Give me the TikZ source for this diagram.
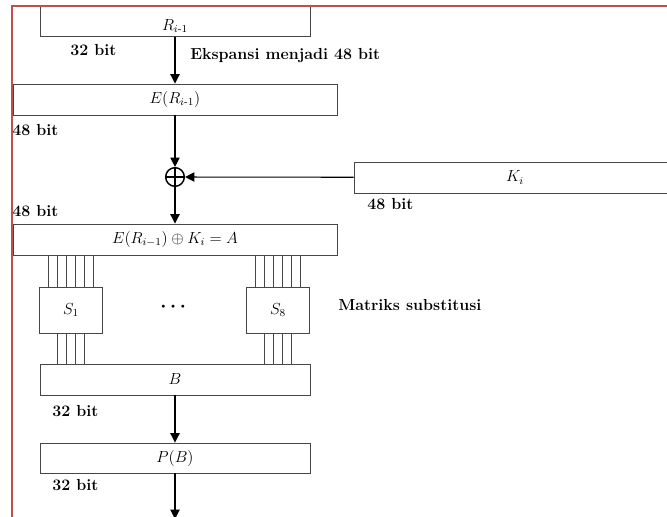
\documentclass[tikz,border=0pt]{standalone}
\usepackage{amsmath}
\usetikzlibrary{arrows.meta,positioning,calc}
\definecolor{framered}{RGB}{192,80,77}
\definecolor{boxgray}{RGB}{70,70,70}
\tikzset{
  blok/.style  ={rectangle, draw=boxgray, line width=0.7pt, inner sep=0pt, font=\large},
  wide/.style  ={blok, minimum width=243pt, minimum height=23.25pt},
  mid/.style   ={blok, minimum width=202.5pt, minimum height=23.25pt},
  sbox/.style  ={blok, minimum width=47.5pt, minimum height=34.5pt},
  xorknoop/.style={circle, draw, line width=1.1pt, minimum size=14pt, inner sep=0pt,
                 path picture={\draw[line width=1.1pt]
                   (path picture bounding box.north) -- (path picture bounding box.south)
                   (path picture bounding box.west) -- (path picture bounding box.east);}},
  flow/.style  ={-{Triangle[length=7pt,width=7pt]}, line width=0.8pt},
  wire/.style  ={draw=boxgray, line width=0.5pt},
  lbl/.style   ={font=\fontsize{12}{14}\selectfont\bfseries, inner sep=0pt, anchor=west}
}

\begin{document}
\begin{tikzpicture}[x=0.75pt, y=-0.75pt]
\useasboundingbox (0,0) rectangle (667,517);
\clip (0,0) rectangle (667,517);

\node[blok, minimum width=202.5pt, text height=18.75pt, text depth=4.5pt, anchor=south] (r) at (175,37) {$R_{i\text{-}1}$};
\node[wide] (e) at (175,99.5) {$E(R_{i\text{-}1})$};
\node[xorknoop] (xor) at (175,177) {};
\node[blok, minimum width=241.5pt, minimum height=23.25pt] (k) at (515,177.5) {$K_i$};
\node[wide] (a) at (175,239.5) {$E(R_{i-1}) \oplus K_i = A$};
\node[sbox] (s1) at (71,310) {$S_1$};
\node[sbox] (s8) at (278,310) {$S_8$};
\node[font=\Large] (dots) at (175,307) {$\boldsymbol{\cdots}$};
\node[mid] (b) at (175,379.5) {$B$};
\node[mid, minimum height=22.5pt] (p) at (175,458) {$P(B)$};
\coordinate (uit) at (175,519);

\node[lbl] (l1) at (70,50) {32 bit};
\node[lbl] (eks) at (190,56) {Ekspansi menjadi 48 bit};
\node[lbl] (l2) at (12,130) {48 bit};
\node[lbl] (l3) at (367,204) {48 bit};
\node[lbl] (l4) at (12,211) {48 bit};
\node[lbl] (mat) at (338,305) {Matriks substitusi};
\node[lbl] (l5) at (52,411) {32 bit};
\node[lbl] (l6) at (52,485) {32 bit};

\draw[flow] (r) -- (e);
\draw[flow] (e) -- (xor);
\draw[flow] (k) -- (xor);
\draw[flow] (xor) -- (a);
\foreach \s in {s1,s8} {
  \foreach \k in {-2.5,-1.5,...,2.5}
    \draw[wire] ([xshift=\k*6.8pt]\s.north) -- ([xshift=\k*6.8pt]\s.north |- a.south);
  \foreach \k in {-1.5,-0.5,...,1.5}
    \draw[wire] ([xshift=\k*6.8pt]\s.south) -- ([xshift=\k*6.8pt]\s.south |- b.north);
}
\draw[flow] (b) -- (p);
\draw[flow] (p) -- (uit);

% frame
\draw[framered, line width=1.5pt] (12,519) -- (12,6) -- (669,6);
\end{tikzpicture}
\end{document}
